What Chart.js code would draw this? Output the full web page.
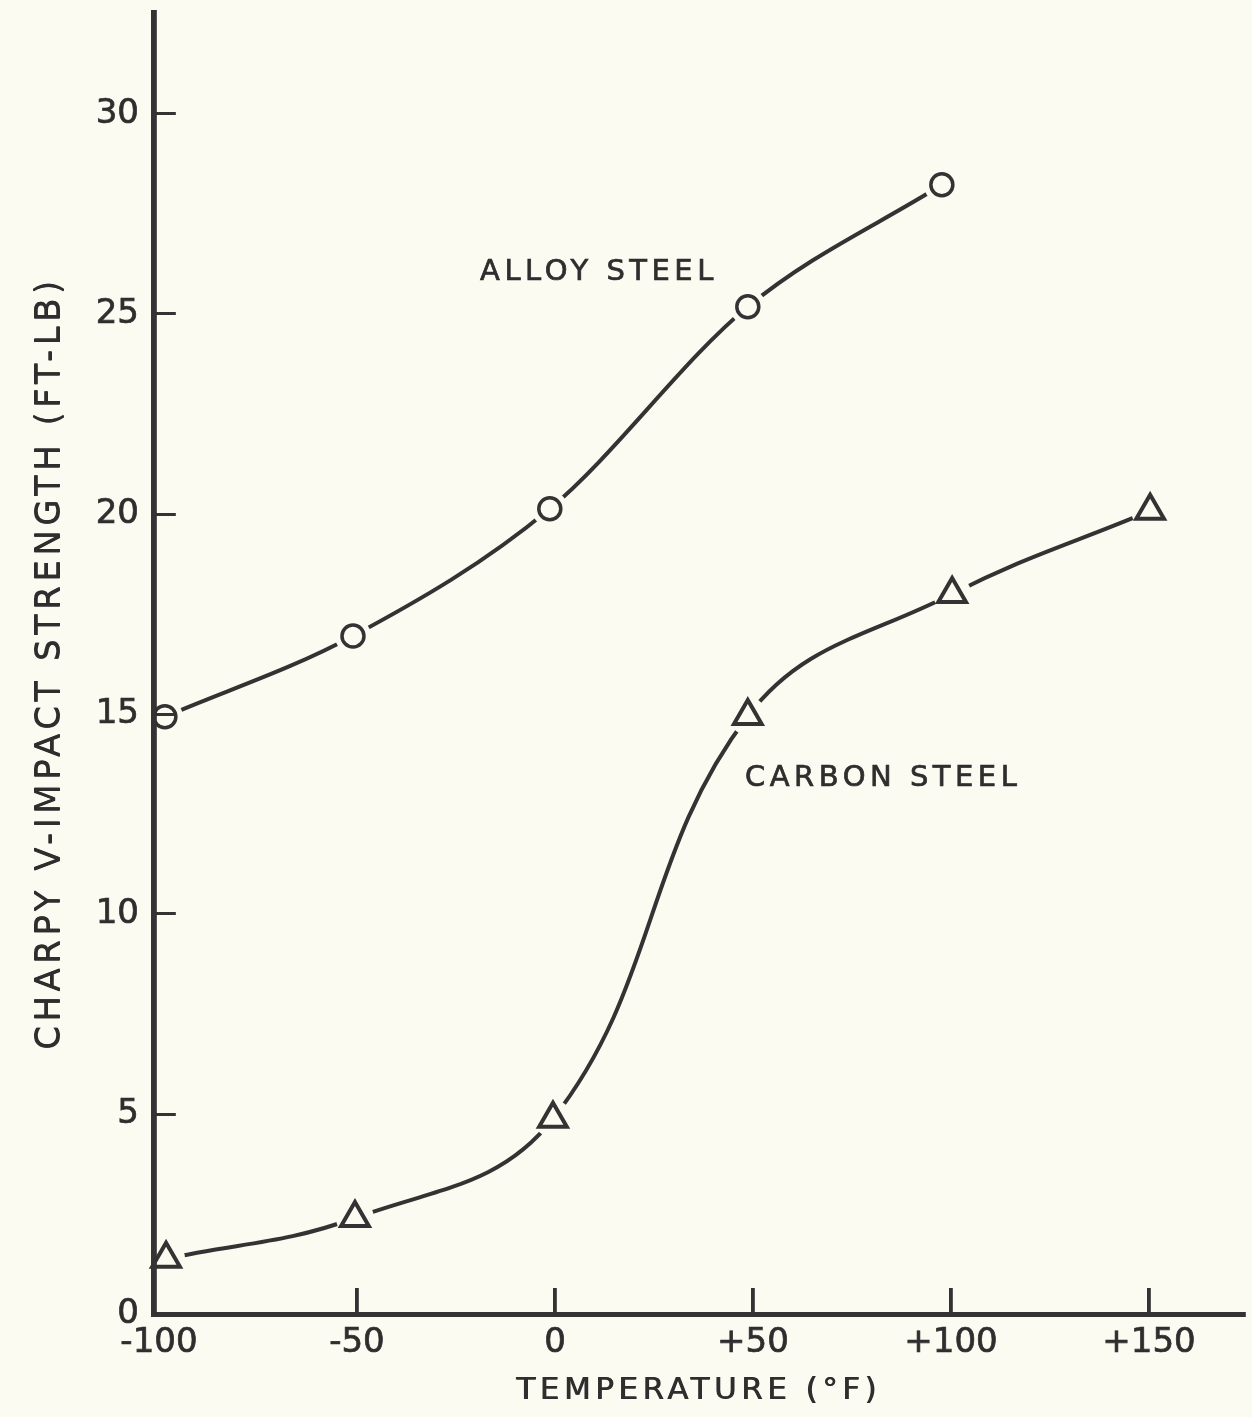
<!DOCTYPE html>
<html>
<head>
<meta charset="utf-8">
<script src="https://cdn.jsdelivr.net/npm/chart.js@4/dist/chart.umd.min.js"></script>
<style>
  html, body { margin: 0; padding: 0; background: #fcfbf1; }
  #wrap { width: 1252px; height: 1417px; }
</style>
</head>
<body>
<div id="wrap"><canvas id="c" width="1252" height="1417"></canvas></div>
<script>
// ---- data ----
const alloyTemps   = [-98.5, -51, -1.3, 48.7, 97.7];
const alloyValues  = [14.93, 16.95, 20.13, 25.18, 28.23];
const carbonTemps  = [-98.2, -50.5, -0.5, 48.7, 100.3, 150.3];
const carbonValues = [1.38, 2.4, 4.88, 14.95, 18.0, 20.08];

const xTickValues = [-100, -50, 0, 50, 100, 150];
const xTickLabels = ['-100', '-50', '0', '+50', '+100', '+150'];
const yTickValues = [0, 5, 10, 15, 20, 25, 30];
const yTickLabels = ['0', '5', '10', '15', '20', '25', '30'];

const seriesNames = ['ALLOY STEEL', 'CARBON STEEL'];
const xTitle = 'TEMPERATURE (°F)';
const yTitle = 'CHARPY V-IMPACT STRENGTH (FT-LB)';

// ---- styling ----
const BG = '#fcfbf1';
const INK = '#333333';
const TXT = '#2e2e2e';
const FONT = "'DejaVu Sans', sans-serif";

const alloyPts = alloyTemps.map((t, i) => ({ x: t, y: alloyValues[i] }));
const carbonPts = carbonTemps.map((t, i) => ({ x: t, y: carbonValues[i] }));

const lineDs = (data, mode) => ({
  data, borderColor: INK, borderWidth: 4, pointRadius: 0,
  cubicInterpolationMode: mode, tension: 0.4, fill: false, order: 3, clip: false,
  borderCapStyle: 'round'
});
const haloDs = (data, r) => ({
  data, showLine: false, pointRadius: r, pointBackgroundColor: BG,
  pointBorderWidth: 0, pointBorderColor: BG, order: 2, clip: false
});
const markDs = (data, style, r, bw) => ({
  data, showLine: false, pointStyle: style, pointRadius: r,
  pointBackgroundColor: BG, pointBorderColor: INK, pointBorderWidth: bw,
  order: 1, clip: false
});

const labelPlugin = {
  id: 'labels',
  beforeDraw(chart) {
    const ctx = chart.ctx;
    ctx.save();
    ctx.fillStyle = BG;
    ctx.fillRect(0, 0, chart.width, chart.height);
    ctx.restore();
    ctx.letterSpacing = '0px';
  },
  afterDatasetsDraw(chart) {
    const ctx = chart.ctx;
    const xs = chart.scales.x, ys = chart.scales.y;
    ctx.letterSpacing = '4.5px';
    ctx.save();
    ctx.fillStyle = TXT;
    ctx.strokeStyle = TXT;
    ctx.lineWidth = 0.7;
    ctx.font = "29px " + FONT;
    ctx.textAlign = 'left';
    ctx.textBaseline = 'alphabetic';
    const pos = [[-18.9, 25.85], [48, 13.2]];
    seriesNames.forEach((name, i) => {
      const px = xs.getPixelForValue(pos[i][0]);
      const py = ys.getPixelForValue(pos[i][1]);
      ctx.fillText(name, px, py);
      ctx.strokeText(name, px, py);
    });
    ctx.restore();
    // spacing and a tiny offset shadow stay set for the axis titles drawn in later layers
    ctx.shadowColor = TXT;
    ctx.shadowBlur = 0;
    ctx.shadowOffsetX = 0.8;
    ctx.shadowOffsetY = 0;
  },
  afterDraw(chart) {
    const ctx = chart.ctx;
    ctx.letterSpacing = '0px';
    ctx.shadowColor = 'rgba(0,0,0,0)';
    ctx.shadowOffsetX = 0;
  }
};

const zeroPad = (s) => { s.paddingTop = 0; s.paddingBottom = 0; s.paddingLeft = 0; s.paddingRight = 0; };

new Chart(document.getElementById('c'), {
  type: 'line',
  data: {
    datasets: [
      lineDs(alloyPts, 'monotone'),
      lineDs(carbonPts, 'default'),
      haloDs(alloyPts, 18),
      haloDs(carbonPts, 19),
      markDs(alloyPts, 'circle', 11, 3.5),
      markDs(carbonPts, 'triangle', 16, 4)
    ]
  },
  options: {
    responsive: false,
    devicePixelRatio: 1,
    animation: false,
    events: [],
    layout: { autoPadding: false, padding: { top: 12, right: 8, left: 0, bottom: 0 } },
    plugins: { legend: { display: false }, tooltip: { enabled: false } },
    scales: {
      x: {
        type: 'linear',
        min: -101.5,
        max: 174,
        afterBuildTicks(s) { s.ticks = xTickValues.map(v => ({ value: v })); },
        afterFit(s) { s.height = 103; zeroPad(s); },
        ticks: {
          callback: (v) => xTickLabels[xTickValues.indexOf(v)],
          autoSkip: false, maxRotation: 0, includeBounds: false,
          padding: 35, color: TXT, font: { family: FONT, size: 34 },
          textStrokeColor: TXT, textStrokeWidth: 0.7
        },
        grid: {
          drawOnChartArea: false, drawTicks: true, tickLength: -26,
          tickWidth: 3,
          tickColor: (c) => (c.tick && c.tick.value === -100) ? 'rgba(0,0,0,0)' : INK,
          z: 1
        },
        border: { display: true, color: INK, width: 5, z: 1 },
        title: {
          display: true, text: xTitle, color: TXT,
          font: { family: FONT, size: 31 }, padding: { top: 0, bottom: 7 }
        }
      },
      y: {
        type: 'linear',
        min: 0,
        max: 32.55,
        afterBuildTicks(s) { s.ticks = yTickValues.map(v => ({ value: v })); },
        afterFit(s) { s.width = 153; zeroPad(s); },
        ticks: {
          callback: (v) => yTickLabels[yTickValues.indexOf(v)],
          autoSkip: false, includeBounds: false,
          padding: 36, color: TXT, font: { family: FONT, size: 34 },
          textStrokeColor: TXT, textStrokeWidth: 0.7
        },
        grid: {
          drawOnChartArea: false, drawTicks: true, tickLength: -22,
          tickWidth: 3,
          tickColor: (c) => (c.tick && c.tick.value === 0) ? 'rgba(0,0,0,0)' : INK,
          z: 1
        },
        border: { display: true, color: INK, width: 5, z: 1 },
        title: {
          display: true, text: yTitle, color: TXT,
          font: { family: FONT, size: 34 }, padding: { top: 30, bottom: 0 }
        }
      }
    }
  },
  plugins: [labelPlugin]
});
</script>
</body>
</html>
